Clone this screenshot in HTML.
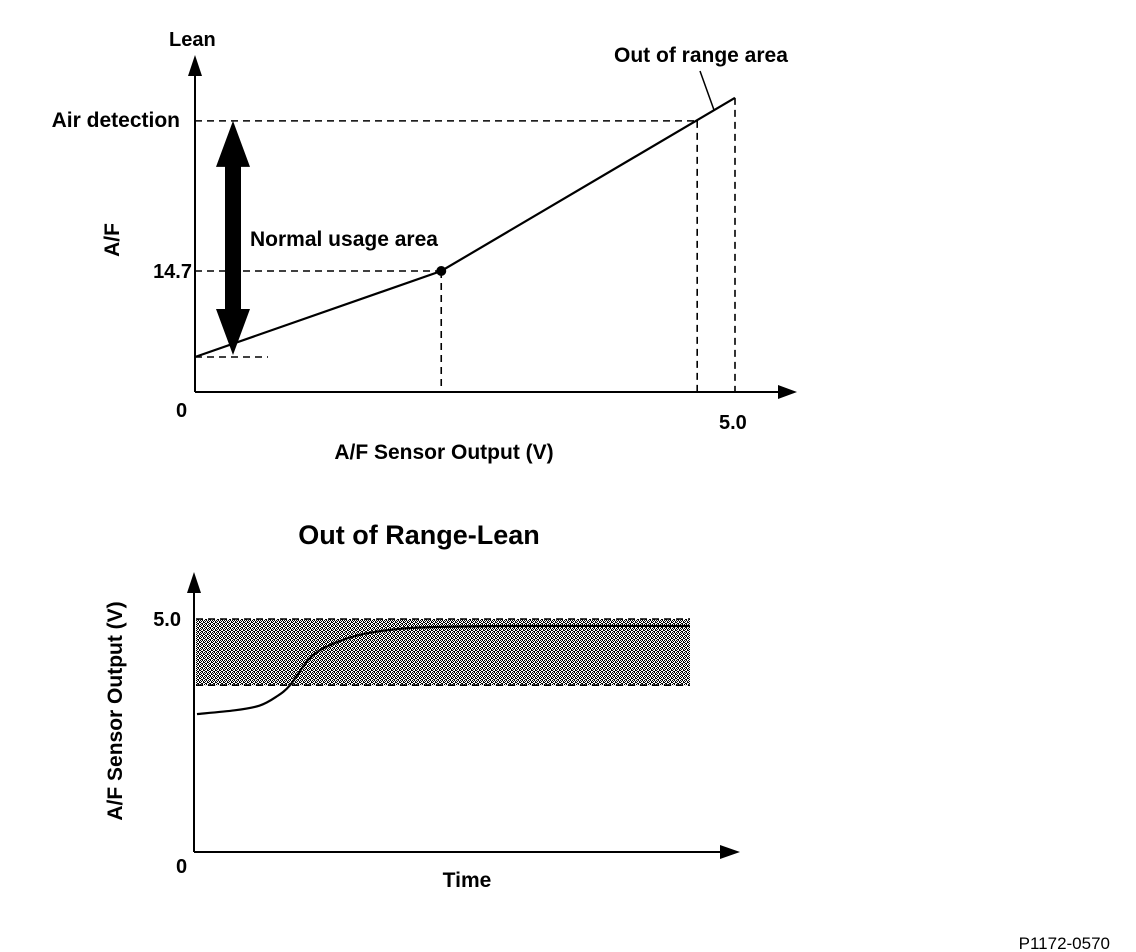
<!DOCTYPE html>
<html><head><meta charset="utf-8"><style>
html,body{margin:0;padding:0;background:#fff;width:1136px;height:952px;overflow:hidden}
svg text{font-family:"Liberation Sans",Arial,sans-serif;font-weight:bold;fill:#000}
</style></head><body>
<svg id="s" width="1136" height="952" viewBox="0 0 1136 952" xmlns="http://www.w3.org/2000/svg">
<defs>
<pattern id="stip" width="4" height="4" patternUnits="userSpaceOnUse">
<rect width="4" height="4" fill="#fff"/>
<rect x="0" y="0" width="1" height="1" fill="#000"/><rect x="2" y="0" width="1" height="1" fill="#000"/>
<rect x="1" y="1" width="1" height="1" fill="#000"/><rect x="3" y="1" width="1" height="1" fill="#000"/>
<rect x="0" y="2" width="1" height="1" fill="#000"/><rect x="3" y="2" width="1" height="1" fill="#000"/>
<rect x="1" y="3" width="1" height="1" fill="#000"/><rect x="2" y="3" width="1" height="1" fill="#000"/>
</pattern>
</defs>
<g id="gtop"></g>
<g id="gbot"></g>
<text x="169" y="46" font-size="20">Lean</text>
<text x="614" y="62" font-size="21">Out of range area</text>
<text x="180" y="127" font-size="21" text-anchor="end">Air detection</text>
<text x="192" y="278" font-size="20" text-anchor="end">14.7</text>
<text transform="translate(119,240) rotate(-90)" font-size="21" text-anchor="middle">A/F</text>
<text x="250" y="246" font-size="21">Normal usage area</text>
<text x="176" y="417" font-size="20">0</text>
<text x="719" y="429" font-size="20">5.0</text>
<text x="444" y="459" font-size="21" text-anchor="middle">A/F Sensor Output (V)</text>
<text x="419" y="544" font-size="27" text-anchor="middle">Out of Range-Lean</text>
<text x="181" y="626" font-size="20" text-anchor="end">5.0</text>
<text transform="translate(122,711) rotate(-90)" font-size="21" text-anchor="middle">A/F Sensor Output (V)</text>
<text x="176" y="873" font-size="20">0</text>
<text x="467" y="887" font-size="21" text-anchor="middle">Time</text>
<text x="1110" y="949" font-size="17" style="font-weight:normal" text-anchor="end">P1172-0570</text>
</svg>
<script>
// Top chart data
const volts = [0, 2.28, 5.0];
const afValues = [11.0, 14.7, 22.15];
const airDetectAF = 21.16;
const airDetectV = 4.65;
const lowAF = 11.0;
// Bottom chart data
const times = [0.04, 0.8, 1.3, 1.64, 1.92, 2.32, 2.73, 3.33, 4.14, 4.95, 6.5, 10];
const outputV = [2.96, 3.04, 3.14, 3.33, 3.58, 4.16, 4.44, 4.66, 4.79, 4.83, 4.85, 4.85];
const bandTop = 5.0, bandBottom = 3.58, tMax = 10;

const NS = "http://www.w3.org/2000/svg";
function mk(parent, tag, attrs){const e=document.createElementNS(NS,tag);for(const k in attrs)e.setAttribute(k,attrs[k]);parent.appendChild(e);return e;}
const xT = v => 195 + v*(735-195)/5;
const yT = a => 271 - (a-14.7)*23.24;
const xB = t => 195 + t*(690-195)/tMax;
const yB = v => 852 - v*(852-619)/5;

const gTop = document.getElementById('gtop');
const dash = {stroke:'#000','stroke-width':1.6,'stroke-dasharray':'7,5',fill:'none'};
let e;
e = mk(gTop,'line',Object.assign({x1:195,y1:yT(airDetectAF),x2:xT(airDetectV),y2:yT(airDetectAF)},dash));


e = mk(gTop,'line',Object.assign({x1:xT(airDetectV),y1:yT(airDetectAF),x2:xT(airDetectV),y2:392},dash));


e = mk(gTop,'line',Object.assign({x1:xT(volts[2]),y1:yT(afValues[2]),x2:xT(volts[2]),y2:392},dash));


e = mk(gTop,'line',Object.assign({x1:195,y1:yT(afValues[1]),x2:xT(volts[1]),y2:yT(afValues[1])},dash));


e = mk(gTop,'line',Object.assign({x1:xT(volts[1]),y1:yT(afValues[1]),x2:xT(volts[1]),y2:392},dash));


e = mk(gTop,'line',Object.assign({x1:195,y1:yT(lowAF),x2:268,y2:yT(lowAF)},dash));


e = mk(gTop,'line',{x1:195,y1:392,x2:785,y2:392,stroke:'#000','stroke-width':2});


e = mk(gTop,'polygon',{points:'778,385 797,392 778,399',fill:'#000'});


e = mk(gTop,'line',{x1:195,y1:392,x2:195,y2:68,stroke:'#000','stroke-width':2});


e = mk(gTop,'polygon',{points:'188,76 195,55 202,76',fill:'#000'});


const ay1=yT(airDetectAF), ay2=355;
e = mk(gTop,'polygon',{points:`233,${ay1} 250,${ay1+46} 241,${ay1+46} 241,${ay2-46} 250,${ay2-46} 233,${ay2} 216,${ay2-46} 225,${ay2-46} 225,${ay1+46} 216,${ay1+46}`,fill:'#000'});


e = mk(gTop,'polyline',{points:volts.map((v,i)=>xT(v)+','+yT(afValues[i])).join(' '),fill:'none',stroke:'#000','stroke-width':2.2});


e = mk(gTop,'circle',{cx:xT(volts[1]),cy:yT(afValues[1]),r:5,fill:'#000'});


e = mk(gTop,'line',{x1:700,y1:71,x2:714,y2:110,stroke:'#000','stroke-width':1.5});



const gBot = document.getElementById('gbot');
e = mk(gBot,'rect',{x:196,y:yB(bandTop),width:xB(tMax)-196,height:yB(bandBottom)-yB(bandTop),fill:'url(#stip)'});


e = mk(gBot,'line',Object.assign({x1:196,y1:yB(bandTop),x2:xB(tMax),y2:yB(bandTop)},dash));


e = mk(gBot,'line',Object.assign({x1:196,y1:yB(bandBottom),x2:xB(tMax),y2:yB(bandBottom)},dash));


e = mk(gBot,'line',{x1:194,y1:852,x2:725,y2:852,stroke:'#000','stroke-width':2});


e = mk(gBot,'polygon',{points:'720,845 740,852 720,859',fill:'#000'});


e = mk(gBot,'line',{x1:194,y1:852,x2:194,y2:590,stroke:'#000','stroke-width':2});


e = mk(gBot,'polygon',{points:'187,593 194,572 201,593',fill:'#000'});


const P = times.map((t,i)=>[xB(t),yB(outputV[i])]);
let d = `M${P[0][0]},${P[0][1]}`;
for(let i=0;i<P.length-1;i++){
  const p0=P[Math.max(0,i-1)],p1=P[i],p2=P[i+1],p3=P[Math.min(P.length-1,i+2)];
  const c1=[p1[0]+(p2[0]-p0[0])/6,p1[1]+(p2[1]-p0[1])/6];
  const c2=[p2[0]-(p3[0]-p1[0])/6,p2[1]-(p3[1]-p1[1])/6];
  d+=` C${c1[0]},${c1[1]} ${c2[0]},${c2[1]} ${p2[0]},${p2[1]}`;
}
e = mk(gBot,'path',{d:d,fill:'none',stroke:'#000','stroke-width':2.2});


</script>
</body></html>
